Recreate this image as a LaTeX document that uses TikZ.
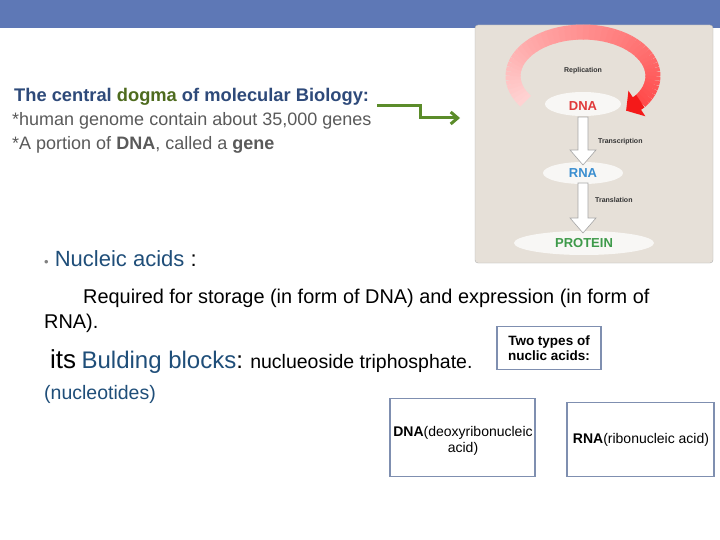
\documentclass[tikz,border=0pt]{standalone}
\usepackage{fontspec}
\setmainfont{Liberation Sans}
\usetikzlibrary{arrows.meta}
\definecolor{topbar}{HTML}{5E78B6}
\definecolor{titleblue}{HTML}{2E4A7A}
\definecolor{dgreen}{HTML}{4E6B1E}
\definecolor{agreen}{HTML}{5B8C2A}
\definecolor{txtgray}{HTML}{5A5A5A}
\definecolor{nblue}{HTML}{1F4E79}
\definecolor{beige}{HTML}{E6E0D8}
\definecolor{boxline}{HTML}{7F8FB0}
\definecolor{dnared}{HTML}{E03A3A}
\definecolor{rnablue}{HTML}{3A8ED0}
\definecolor{protgreen}{HTML}{3E9A4A}
\tikzset{
  infobox/.style={draw=boxline, line width=1.2pt, fill=white},
  glow/.style={fill=white, opacity=0.75},
  flowarrow/.style={draw=gray!70, fill=white, line width=0.6pt},
  smalllab/.style={font=\fontsize{7}{8}\selectfont\bfseries, text=black!80, inner sep=0pt},
  biglab/.style={font=\fontsize{13}{14}\selectfont\bfseries, inner sep=0pt}
}
\begin{document}
\begin{tikzpicture}[x=1pt,y=-1pt]
\useasboundingbox (0,0) rectangle (720,540);
\fill[white] (0,0) rectangle (720,540);
\fill[topbar] (0,0) rectangle (720,28);
% picture
\draw[gray!60, fill=beige, rounded corners=3pt] (475,25) rectangle (713,263);
\fill[glow] (583,104) ellipse (38 and 12);
\fill[glow] (583,173) ellipse (40 and 11);
\fill[glow] (584,243) ellipse (70 and 12);
\foreach \t in {215,210,...,-30}{
  \pgfmathsetmacro{\c}{(215-\t)/245*100}
  \draw[line width=15pt, color=red!\c!pink!70] ({583+70*cos(\t)},{76-44*sin(\t)}) -- ({583+70*cos(\t-5.5)},{76-44*sin(\t-5.5)});
}
\draw[line width=15pt, color=red!95!black!90, -{Triangle[length=13pt,width=30pt]}] ({583+70*cos(-35)},{76-44*sin(-35)}) -- ({583+70*cos(-52)},{76-44*sin(-52)});
\node[smalllab] (rep) at (583,71) {Replication};
\node[biglab, text=dnared] (dna) at (583,106) {DNA};
\node[biglab, text=rnablue] (rna) at (583,173) {RNA};
\node[biglab, text=protgreen] (prot) at (584,243) {PROTEIN};
\draw[flowarrow] (578,117) -- (588,117) -- (588,150) -- (596,150) -- (583,165) -- (570,150) -- (578,150) -- cycle;
\draw[flowarrow] (578,183) -- (588,183) -- (588,218) -- (596,218) -- (583,233) -- (570,218) -- (578,218) -- cycle;
\node[smalllab, anchor=west] (tr) at (598,142) {Transcription};
\node[smalllab, anchor=west] (tl) at (595,200) {Translation};
% left text
\node[anchor=west, inner sep=0pt, text=titleblue, font=\fontsize{18.3}{20}\selectfont\bfseries] (title) at (14,97) {The central \textcolor{dgreen}{dogma} of molecular Biology:};
\node[anchor=west, inner sep=0pt, text=txtgray, font=\fontsize{18}{20}\selectfont] (l1) at (12,121) {*human genome contain about 35,000 genes};
\node[anchor=west, inner sep=0pt, text=txtgray, font=\fontsize{18}{20}\selectfont] (l2) at (12,145) {*A portion of \textbf{DNA}, called a \textbf{gene}};
\coordinate (a0) at (377,106);
\coordinate (a1) at (460,118);
\draw[agreen, line width=3pt, -{Straight Barb[length=7pt,width=12pt]}] (a0) -- (420,106) -- (420,118) -- (a1);
% body
\node[anchor=west, inner sep=0pt, font=\fontsize{22}{24}\selectfont, text=nblue] (nuc) at (44,259) {\textcolor{gray}{\fontsize{13}{14}\selectfont•} Nucleic acids \textcolor{black}{:}};
\node[anchor=west, inner sep=0pt, font=\fontsize{19.9}{21}\selectfont] (req) at (83,298) {Required for storage (in form of DNA) and expression (in form of};
\node[anchor=west, inner sep=0pt, font=\fontsize{19.9}{21}\selectfont] (rna2) at (44,323) {RNA).};
\node[anchor=base west, inner sep=0pt, font=\fontsize{19.5}{21}\selectfont] (bb) at (50,368) {{\fontsize{26}{28}\selectfont its} {\fontsize{24}{26}\selectfont\color{nblue}Bulding blocks}{\fontsize{24}{26}\selectfont :} nuclueoside triphosphate.};
\node[anchor=west, inner sep=0pt, font=\fontsize{19.5}{21}\selectfont, text=nblue] (nt) at (44,394) {(nucleotides)};
\node[infobox, minimum width=104pt, minimum height=43pt, inner sep=1pt, font=\fontsize{13.5}{15}\selectfont\bfseries, align=center] (two) at (549,348) {Two types of\\nuclic acids:};
\node[infobox, minimum width=145pt, minimum height=78pt, anchor=north] (dnab) at (462.5,398) {};
\node[font=\fontsize{14}{16}\selectfont, align=center, anchor=north, inner sep=0pt] (dnat) at (463,426) {\textbf{DNA}(deoxyribonucleic\\acid)};
\node[infobox, minimum width=147pt, minimum height=74pt, anchor=north] (rnab) at (640.5,402) {};
\node[font=\fontsize{14}{16}\selectfont, inner sep=0pt] (rnat) at (641,440) {\textbf{RNA}(ribonucleic acid)};
\end{tikzpicture}
\end{document}
